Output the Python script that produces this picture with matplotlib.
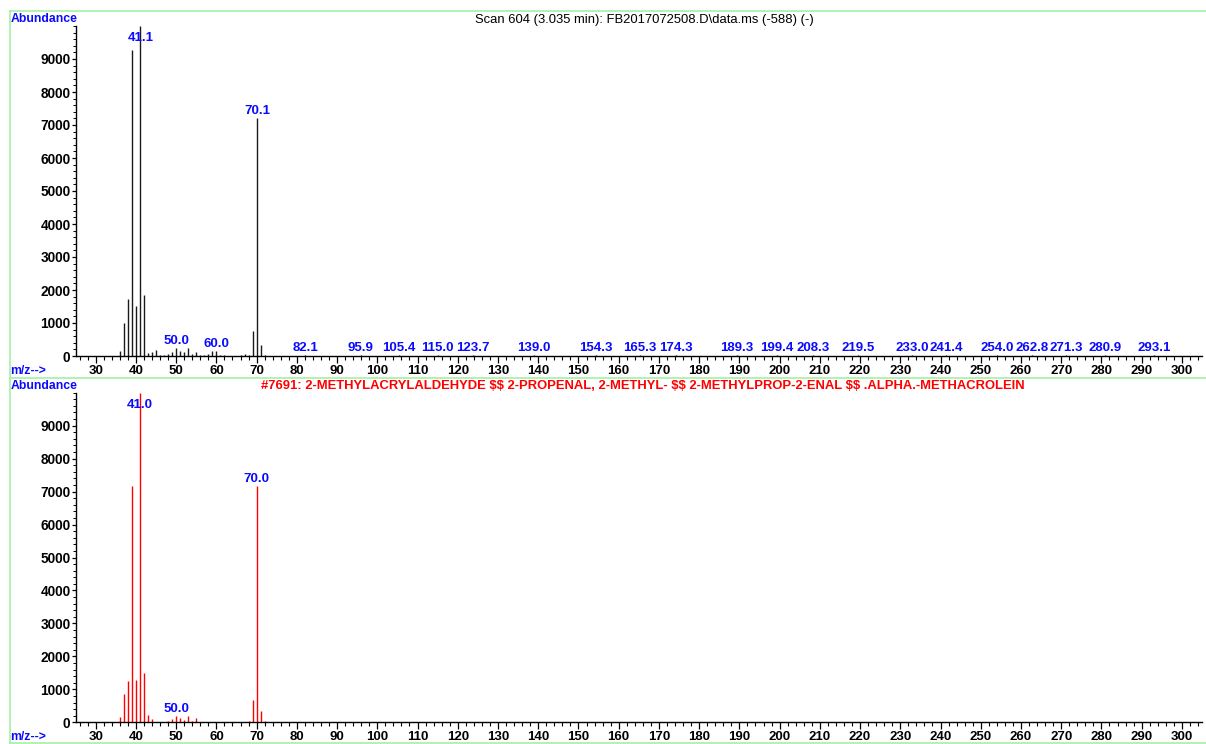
import matplotlib
matplotlib.use("Agg")
import matplotlib.pyplot as plt
from matplotlib.lines import Line2D
from matplotlib.ticker import MultipleLocator

plt.rcParams["font.family"] = ["Liberation Sans", "DejaVu Sans"]

# Sample scan (centroided peaks)
scan_mz = [36, 37, 38, 39, 40, 41.1, 42, 43, 44, 45, 46, 47, 48, 49, 50.0, 51, 52,
           53, 54, 55, 56, 57, 58, 59, 60.0, 61, 62, 66, 67, 68, 69, 70.1, 71, 72,
           82.1, 95.9, 105.4, 115.0, 123.7, 139.0, 154.3, 165.3, 174.3, 189.3,
           199.4, 208.3, 219.5, 233.0, 241.4, 254.0, 262.8, 271.3, 280.9, 293.1]
scan_abund = [150, 1010, 1720, 9260, 1530, 10000, 1860, 100, 110, 170, 30, 20, 70,
              120, 250, 160, 110, 240, 50, 120, 20, 20, 60, 140, 150, 30, 20, 30,
              70, 40, 750, 7210, 340, 40,
              30, 30, 30, 30, 30, 30, 30, 30, 30, 30,
              30, 30, 30, 30, 30, 30, 30, 30, 30, 30]
scan_labeled = [41.1, 50.0, 60.0, 70.1, 82.1, 95.9, 105.4, 115.0, 123.7, 139.0,
                154.3, 165.3, 174.3, 189.3, 199.4, 208.3, 219.5, 233.0, 241.4,
                254.0, 262.8, 271.3, 280.9, 293.1]
scan_title = "Scan 604 (3.035 min): FB2017072508.D\\data.ms (-588) (-)"

# Library reference spectrum
lib_mz = [36, 37, 38, 39, 40, 41.0, 42, 43, 44, 48, 49, 50.0, 51, 52, 53, 54, 55,
          68, 69, 70.0, 71, 72]
lib_abund = [150, 860, 1260, 7180, 1290, 10000, 1510, 230, 110, 50, 100, 200, 130,
             80, 190, 40, 140, 50, 680, 7170, 350, 50]
lib_labeled = [41.0, 50.0, 70.0]
lib_title = ("#7691: 2-METHYLACRYLALDEHYDE $$ 2-PROPENAL, 2-METHYL- $$ "
             "2-METHYLPROP-2-ENAL $$ .ALPHA.-METHACROLEIN")

x_ticks = list(range(30, 301, 10))
y_ticks = list(range(0, 9001, 1000))

W, H = 1206, 744
fig = plt.figure(figsize=(W / 100, H / 100), dpi=100)
fig.patch.set_facecolor("white")


def fx(px):
    return px / W


def fy(py):
    return 1 - py / H


BLUE = "#0a0aff"
GREEN = "#a4f0a4"


def spectrum_axes(top_px, bottom_px):
    left, right = 76, 1202
    ax = fig.add_axes([fx(left), fy(bottom_px), (right - left) / W,
                       (bottom_px - top_px) / H])
    ax.set_xlim(25.1, 305.0)
    ax.set_ylim(0, 10000)
    for s in ("top", "right"):
        ax.spines[s].set_visible(False)
    for s in ("left", "bottom"):
        ax.spines[s].set_linewidth(1.0)
        ax.spines[s].set_color("black")
    ax.set_xticks(x_ticks)
    ax.set_yticks(y_ticks)
    ax.xaxis.set_minor_locator(MultipleLocator(2))
    ax.yaxis.set_minor_locator(MultipleLocator(200))
    ax.tick_params(axis="x", which="major", direction="out", length=5, width=0.9,
                   pad=1.5, labelsize=9.5)
    ax.tick_params(axis="x", which="minor", direction="out", length=3, width=0.8)
    ax.tick_params(axis="y", which="major", direction="out", length=3, width=0.9,
                   pad=1, labelsize=9.8)
    ax.tick_params(axis="y", which="minor", direction="out", length=2, width=0.7)
    for lab in ax.get_xticklabels() + ax.get_yticklabels():
        lab.set_fontweight("bold")
    ax.patch.set_alpha(0)
    return ax


def label_peaks(ax, mz, abund, labeled):
    for m in labeled:
        a = abund[mz.index(m)]
        ax.annotate(f"{m:.1f}", xy=(m, min(a, 9420)), xytext=(0, 0.5),
                    textcoords="offset points", ha="center", va="bottom",
                    color=BLUE, fontsize=9.5, fontweight="bold")


# Upper panel: measured scan
ax1 = spectrum_axes(26, 356)
ax1.vlines(scan_mz, 0, scan_abund, colors="#1a1a1a", linewidth=1.0)
label_peaks(ax1, scan_mz, scan_abund, scan_labeled)

# Lower panel: library hit
ax2 = spectrum_axes(392.7, 722.3)
ax2.vlines(lib_mz, 0, lib_abund, colors="#ff0000", linewidth=1.0)
label_peaks(ax2, lib_mz, lib_abund, lib_labeled)

# Panel frames
for y in (11.3, 377.5, 742.5):
    fig.add_artist(Line2D([fx(10), fx(1206)], [fy(y), fy(y)], color=GREEN,
                          linewidth=1.2, transform=fig.transFigure))
fig.add_artist(Line2D([fx(10.3), fx(10.3)], [fy(11.3), fy(742.5)], color=GREEN,
                      linewidth=1.2, transform=fig.transFigure))

# Panel captions
for y in (19.5, 386):
    fig.text(fx(10.5), fy(y), "Abundance", color=BLUE, fontsize=8.8,
             fontweight="bold", ha="left", va="center")
for y in (371, 737.5):
    fig.text(fx(10.5), fy(y), "m/z-->", color=BLUE, fontsize=8.8,
             fontweight="bold", ha="left", va="center")

fig.text(fx(644.5), fy(19.5), scan_title, color="black", fontsize=9.4,
         ha="center", va="center", parse_math=False)
fig.text(fx(642.5), fy(385.5), lib_title, color="#ff0000", fontsize=9.4,
         fontweight="bold", ha="center", va="center", parse_math=False)

fig.savefig("out.png", dpi=100, facecolor="white")
